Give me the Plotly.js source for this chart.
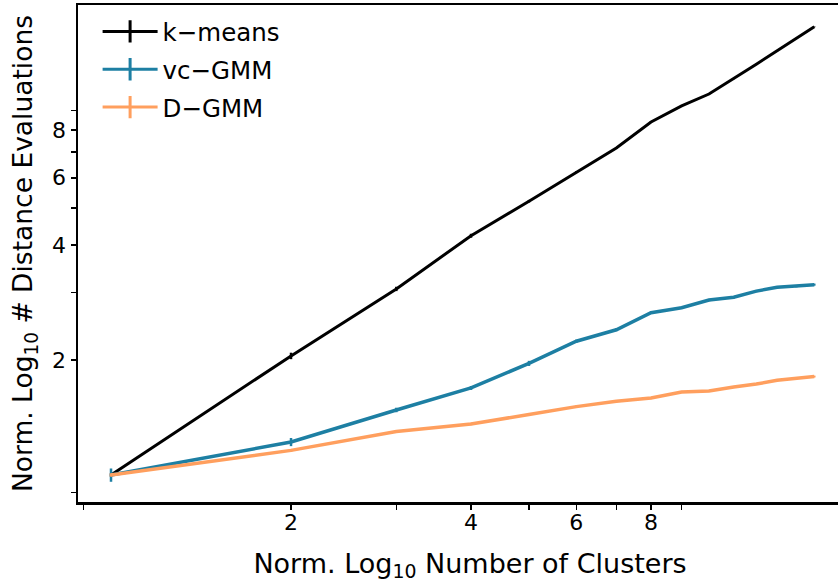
<!DOCTYPE html>
<html>
<head>
<meta charset="utf-8">
<script src="https://cdn.plot.ly/plotly-3.0.1.min.js"></script>
<style>
html, body { margin: 0; padding: 0; overflow: hidden; background: #fff; }
#chart { width: 866px; height: 586px; }
</style>
</head>
<body>
<div id="chart"></div>
<script>
// Number of clusters (normalised)
const clusters = [1, 2, 3, 4, 5, 6, 7, 8, 9, 10, 11, 12, 13, 14, 15];

// Normalised number of distance evaluations
const kmeans = [1.00, 2.05, 3.07, 4.23, 5.21, 6.21, 7.18, 8.40, 9.25, 9.94, 10.9, 11.9, 12.9, 13.9, 14.9];
const vcGMM  = [1.00, 1.22, 1.48, 1.69, 1.96, 2.24, 2.40, 2.66, 2.74, 2.87, 2.92, 3.03, 3.10, 3.12, 3.15];
const dGMM   = [1.00, 1.16, 1.30, 1.36, 1.44, 1.51, 1.56, 1.59, 1.65, 1.66, 1.70, 1.73, 1.77, 1.79, 1.81];

// Error bar half-widths
const kmeansErr = [0.01, 0.04, 0.04, 0.05, 0.04, 0.03, 0.03, 0.04, 0.03, 0.03, 0.03, 0.03, 0.03, 0.03, 0.03];
const vcGMMErr  = [0.04, 0.03, 0.02, 0.02, 0.03, 0.02, 0.02, 0.02, 0.02, 0.02, 0.02, 0.02, 0.02, 0.02, 0.02];
const dGMMErr   = [0.01, 0.01, 0.01, 0.01, 0.01, 0.01, 0.01, 0.01, 0.01, 0.01, 0.01, 0.01, 0.01, 0.01, 0.01];

const names  = ['k\u2212means', 'vc\u2212GMM', 'D\u2212GMM'];
const colors = ['#000000', '#1d7fa3', '#ff9f5e'];

const xTickVals = [2, 4, 6, 8];
const xTickText = ['2', '4', '6', '8'];
const xMinorVals = [0.9, 3, 5, 7, 9];
const yTickVals = [2, 4, 6, 8];
const yTickText = ['2', '4', '6', '8'];
const yMinorVals = [0.9, 3, 5, 7, 9];

const series = [kmeans, vcGMM, dGMM];
const errs = [kmeansErr, vcGMMErr, dGMMErr];

const traces = [];
series.forEach((ys, i) => {
  traces.push({
    x: clusters, y: ys, type: 'scatter', mode: 'lines',
    line: { color: colors[i], width: i === 0 ? 3 : 3.5 },
    error_y: { type: 'data', array: errs[i], visible: true, color: colors[i], thickness: 2.5, width: 0 },
    showlegend: false, hoverinfo: 'skip'
  });
});
// legend entries (line with vertical bar, like the errorbar legend)
series.forEach((ys, i) => {
  traces.push({
    x: [null], y: [null], type: 'scatter', mode: 'lines+markers', name: names[i],
    legendgroup: 'g' + i,
    line: { color: colors[i], width: 3 },
    marker: { symbol: 'line-ns', size: 16, line: { color: colors[i], width: 3 } },
    showlegend: true
  });
});

const font = { family: 'DejaVu Sans, sans-serif', color: '#000' };

const layout = {
  width: 866, height: 586,
  margin: { l: 78, r: 4, t: 5, b: 84 },
  paper_bgcolor: '#fff', plot_bgcolor: '#fff',
  font: Object.assign({ size: 22 }, font),
  showlegend: true,
  legend: {
    x: 0.025, y: 0.992, xanchor: 'left', yanchor: 'top',
    bgcolor: 'rgba(0,0,0,0)', borderwidth: 0,
    font: Object.assign({ size: 24.5 }, font),
    itemwidth: 55,
    tracegroupgap: 3
  },
  xaxis: {
    type: 'log', range: [-0.0552, 1.2559],
    tickmode: 'array', tickvals: xTickVals, ticktext: xTickText,
    ticks: 'outside', ticklen: 5, tickwidth: 1.5, tickcolor: '#000',
    minor: { tickmode: 'array', tickvals: xMinorVals, ticks: 'outside', ticklen: 5, tickwidth: 1.5, tickcolor: '#000', showgrid: false },
    showline: true, linecolor: '#000', linewidth: 2.5, mirror: true,
    showgrid: false, zeroline: false,
    ticklabelstandoff: -6,
    tickfont: Object.assign({ size: 22 }, font),
    title: { text: 'Norm. Log<sub>10</sub> Number of Clusters', font: Object.assign({ size: 27 }, font), standoff: 20 }
  },
  yaxis: {
    type: 'log', range: [-0.0707, 1.2304],
    tickmode: 'array', tickvals: yTickVals, ticktext: yTickText,
    ticks: 'outside', ticklen: 5, tickwidth: 1.5, tickcolor: '#000',
    minor: { tickmode: 'array', tickvals: yMinorVals, ticks: 'outside', ticklen: 5, tickwidth: 1.5, tickcolor: '#000', showgrid: false },
    showline: true, linecolor: '#000', linewidth: 2.5, mirror: true,
    showgrid: false, zeroline: false,
    tickfont: Object.assign({ size: 22 }, font),
    title: { text: 'Norm. Log<sub>10</sub> # Distance Evaluations', font: Object.assign({ size: 26.5 }, font), standoff: 12 }
  }
};

Plotly.newPlot('chart', traces, layout, { displayModeBar: false, staticPlot: true });
</script>
</body>
</html>
